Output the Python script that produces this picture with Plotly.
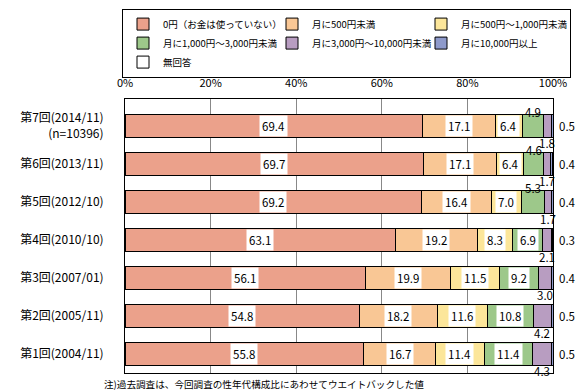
import plotly.graph_objects as go

rounds = ["第7回(2014/11)<br>(n=10396)", "第6回(2013/11)", "第5回(2012/10)",
          "第4回(2010/10)", "第3回(2007/01)", "第2回(2005/11)", "第1回(2004/11)"]
series_names = ["0円（お金は使っていない）", "月に500円未満", "月に500円～1,000円未満",
                "月に1,000円～3,000円未満", "月に3,000円～10,000円未満", "月に10,000円以上", "無回答"]
zero_yen = [69.4, 69.7, 69.2, 63.1, 56.1, 54.8, 55.8]
under_500 = [17.1, 17.1, 16.4, 19.2, 19.9, 18.2, 16.7]
yen_500_1000 = [6.4, 6.4, 7.0, 8.3, 11.5, 11.6, 11.4]
yen_1000_3000 = [4.9, 4.6, 5.3, 6.9, 9.2, 10.8, 11.4]
yen_3000_10000 = [1.8, 1.7, 1.7, 2.1, 3.0, 4.2, 4.3]
over_10000 = [0.5, 0.4, 0.4, 0.3, 0.4, 0.5, 0.5]
no_answer = [0.0, 0.0, 0.0, 0.0, 0.0, 0.0, 0.0]
x_ticks = [0, 20, 40, 60, 80, 100]
x_tick_labels = ["0%", "20%", "40%", "60%", "80%", "100%"]
footnote = "注)過去調査は、今回調査の性年代構成比にあわせてウエイトバックした値"

series = [zero_yen, under_500, yen_500_1000, yen_1000_3000, yen_3000_10000, over_10000, no_answer]
colors = ["#EBA18B", "#F9C795", "#FCE69A", "#9DC88A", "#B89DC1", "#8E9ACB", "#FFFFFF"]

JP = "Noto Sans CJK JP"
fig = go.Figure()
for name, vals, col in zip(series_names, series, colors):
    fig.add_trace(go.Bar(
        y=rounds, x=vals, name=name, orientation="h",
        marker=dict(color=col, line=dict(color="black", width=1)),
        hoverinfo="x+name",
    ))

lab_font = dict(family=JP, size=11.5, color="black")
annotations = []
for i, cat in enumerate(rounds):
    cum = 0.0
    for s, vals in enumerate(series):
        v = vals[i]
        mid = cum + v / 2
        txt = f"{v:.1f}"
        if s in (0, 1, 2) or (s == 3 and v >= 6):
            annotations.append(dict(x=mid, y=cat, text=txt, showarrow=False,
                                    bgcolor="white", borderpad=2, font=lab_font))
        elif s == 3:
            annotations.append(dict(x=mid, y=cat, text=txt, showarrow=False, yshift=14,
                                    font=lab_font))
        elif s == 4:
            annotations.append(dict(x=mid, y=cat, text=txt, showarrow=False, yshift=-17,
                                    font=lab_font))
        elif s == 5:
            annotations.append(dict(xref="paper", x=1.0, xanchor="center", y=cat, text=txt,
                                    showarrow=False, xshift=14, font=lab_font))
        cum += v

annotations.append(dict(xref="paper", yref="paper", x=-0.054, y=-0.040, xanchor="left",
                        yanchor="middle", text=footnote, showarrow=False,
                        font=dict(family=JP, size=9.6, color="black")))

fig.update_layout(
    barmode="stack",
    bargap=0.4,
    width=578, height=383,
    margin=dict(l=117, r=33, t=91, b=18, autoexpand=False),
    paper_bgcolor="white", plot_bgcolor="white",
    font=dict(family=JP, size=12, color="black"),
    showlegend=True,
    legend=dict(orientation="h", x=-0.007, xanchor="left", y=1.33, yanchor="top",
                bordercolor="black", borderwidth=1, entrywidth=104,
                font=dict(family=JP, size=9.5, color="black"),
                traceorder="normal"),
    annotations=annotations,
)
fig.update_xaxes(range=[0, 100], side="top", tickvals=x_ticks, ticktext=x_tick_labels,
                 showgrid=True, gridcolor="#888888", gridwidth=1,
                 showline=True, linecolor="black", linewidth=1, mirror=True,
                 zeroline=False, ticks="", ticklabelstandoff=7,
                 tickfont=dict(family=JP, size=11, color="black"), fixedrange=True)
fig.update_yaxes(autorange="reversed", showline=True, linecolor="black", linewidth=1,
                 mirror=True, showgrid=False, ticks="", ticklabelstandoff=18,
                 tickfont=dict(family=JP, size=12, color="black"), fixedrange=True)

fig.write_html("out.html")
